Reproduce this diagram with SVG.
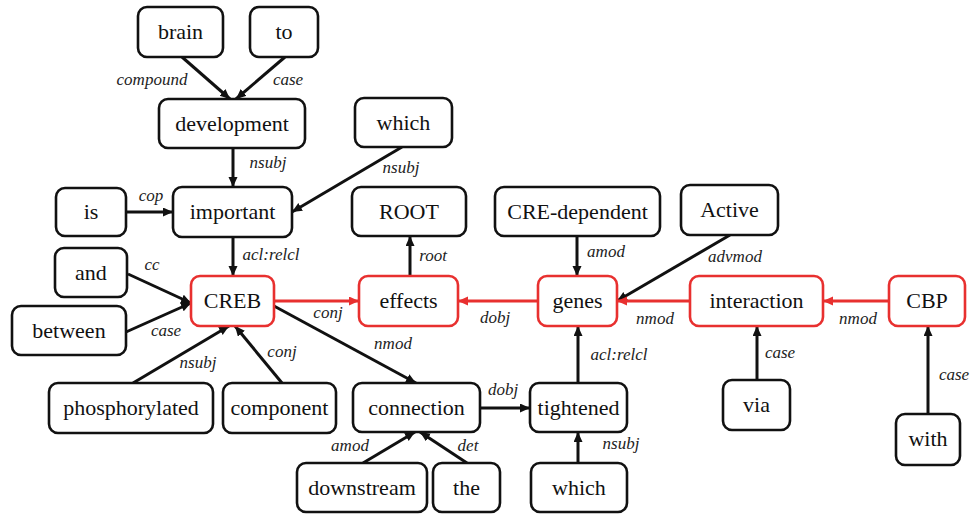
<svg xmlns="http://www.w3.org/2000/svg" width="972" height="515" viewBox="0 0 972 515">
<style>
.n rect{fill:#fff;stroke:#111;stroke-width:2.6}
.r rect{stroke:#e8302f}
.n text{font-size:22px;fill:#111;text-anchor:middle}
.e line{stroke:#111;stroke-width:3}
.e line.red{stroke:#e8302f}
.lb text{font-style:italic;font-size:17px;fill:#222;text-anchor:middle}
</style>
<defs>
<marker id="ab" markerUnits="userSpaceOnUse" markerWidth="11" markerHeight="10" refX="10" refY="4.5" orient="auto"><path d="M0,0 L10,4.5 L0,9 z" fill="#111"/></marker>
<marker id="ar" markerUnits="userSpaceOnUse" markerWidth="11" markerHeight="10" refX="10" refY="4.5" orient="auto"><path d="M0,0 L10,4.5 L0,9 z" fill="#e8302f"/></marker>
</defs>
<rect width="972" height="515" fill="#fff"/>
<g id="connectors" class="e">
<line x1="182" y1="57" x2="230" y2="99" marker-end="url(#ab)"/>
<line x1="285" y1="57" x2="236" y2="99" marker-end="url(#ab)"/>
<line x1="233" y1="148" x2="233" y2="187" marker-end="url(#ab)"/>
<line x1="402" y1="147" x2="292" y2="212" marker-end="url(#ab)"/>
<line x1="126" y1="212" x2="173" y2="212" marker-end="url(#ab)"/>
<line x1="233" y1="237" x2="233" y2="276" marker-end="url(#ab)"/>
<line x1="128" y1="274" x2="191" y2="303" marker-end="url(#ab)"/>
<line x1="126" y1="332" x2="191" y2="303" marker-end="url(#ab)"/>
<line x1="133" y1="383" x2="229" y2="326" marker-end="url(#ab)"/>
<line x1="282" y1="383" x2="235" y2="326" marker-end="url(#ab)"/>
<line class="red" x1="274" y1="301" x2="359" y2="301" marker-end="url(#ar)"/>
<line x1="274" y1="306" x2="416" y2="383" marker-end="url(#ab)"/>
<line x1="410" y1="276" x2="410" y2="236" marker-end="url(#ab)"/>
<line class="red" x1="538" y1="301" x2="458" y2="301" marker-end="url(#ar)"/>
<line x1="577" y1="236" x2="577" y2="276" marker-end="url(#ab)"/>
<line x1="730" y1="235" x2="617" y2="301" marker-end="url(#ab)"/>
<line class="red" x1="690" y1="301" x2="617" y2="301" marker-end="url(#ar)"/>
<line class="red" x1="889" y1="301" x2="823" y2="301" marker-end="url(#ar)"/>
<line x1="757" y1="380" x2="757" y2="326" marker-end="url(#ab)"/>
<line x1="928" y1="414" x2="928" y2="326" marker-end="url(#ab)"/>
<line x1="480" y1="408" x2="530" y2="408" marker-end="url(#ab)"/>
<line x1="578" y1="383" x2="578" y2="326" marker-end="url(#ab)"/>
<line x1="578" y1="463" x2="578" y2="432" marker-end="url(#ab)"/>
<line x1="363" y1="463" x2="415" y2="432" marker-end="url(#ab)"/>
<line x1="467" y1="463" x2="420" y2="432" marker-end="url(#ab)"/>
</g>
<g id="labels" class="lb" font-family="Liberation Serif, serif">
<text x="152" y="85">compound</text>
<text x="288" y="85">case</text>
<text x="268" y="168">nsubj</text>
<text x="401" y="173">nsubj</text>
<text x="151" y="201">cop</text>
<text x="271" y="260">acl:relcl</text>
<text x="152" y="270">cc</text>
<text x="166" y="336">case</text>
<text x="198" y="368">nsubj</text>
<text x="282" y="357">conj</text>
<text x="328" y="318">conj</text>
<text x="393" y="349">nmod</text>
<text x="433" y="261">root</text>
<text x="495" y="323">dobj</text>
<text x="606" y="257">amod</text>
<text x="735" y="262">advmod</text>
<text x="655" y="324">nmod</text>
<text x="858" y="324">nmod</text>
<text x="780" y="358">case</text>
<text x="954" y="380">case</text>
<text x="503" y="395">dobj</text>
<text x="619" y="360">acl:relcl</text>
<text x="350" y="451">amod</text>
<text x="468" y="451">det</text>
<text x="621" y="449">nsubj</text>
</g>
<g id="nodes" font-family="Liberation Serif, serif">
<g id="brain" class="n"><rect x="138" y="7" width="85" height="50" rx="9"/><text x="180.5" y="39">brain</text></g>
<g id="to" class="n"><rect x="250" y="7" width="68" height="50" rx="9"/><text x="284" y="39">to</text></g>
<g id="development" class="n"><rect x="159" y="99" width="146" height="49" rx="9"/><text x="232" y="131">development</text></g>
<g id="which1" class="n"><rect x="355" y="98" width="97" height="49" rx="9"/><text x="403.5" y="130">which</text></g>
<g id="is" class="n"><rect x="56" y="188" width="70" height="48" rx="9"/><text x="91" y="219">is</text></g>
<g id="important" class="n"><rect x="173" y="187" width="119" height="50" rx="9"/><text x="232.5" y="219">important</text></g>
<g id="and" class="n"><rect x="55" y="248" width="72" height="49" rx="9"/><text x="91" y="280">and</text></g>
<g id="between" class="n"><rect x="12" y="306" width="114" height="49" rx="9"/><text x="69" y="338">between</text></g>
<g id="CREB" class="n r"><rect x="191" y="276" width="83" height="50" rx="9"/><text x="232.5" y="308">CREB</text></g>
<g id="phosphorylated" class="n"><rect x="49" y="383" width="164" height="50" rx="9"/><text x="131" y="415">phosphorylated</text></g>
<g id="component" class="n"><rect x="223" y="383" width="113" height="50" rx="9"/><text x="279.5" y="415">component</text></g>
<g id="ROOT" class="n"><rect x="352" y="187" width="114" height="49" rx="9"/><text x="409" y="219">ROOT</text></g>
<g id="CRE-dependent" class="n"><rect x="495" y="187" width="165" height="49" rx="9"/><text x="577.5" y="219">CRE-dependent</text></g>
<g id="effects" class="n r"><rect x="359" y="276" width="99" height="50" rx="9"/><text x="408.5" y="308">effects</text></g>
<g id="genes" class="n r"><rect x="538" y="276" width="79" height="50" rx="9"/><text x="577.5" y="308">genes</text></g>
<g id="Active" class="n"><rect x="681" y="185" width="97" height="50" rx="9"/><text x="729.5" y="217">Active</text></g>
<g id="interaction" class="n r"><rect x="690" y="276" width="133" height="50" rx="9"/><text x="756.5" y="308">interaction</text></g>
<g id="CBP" class="n r"><rect x="889" y="276" width="76" height="50" rx="9"/><text x="927" y="308">CBP</text></g>
<g id="connection" class="n"><rect x="353" y="383" width="127" height="49" rx="9"/><text x="416.5" y="415">connection</text></g>
<g id="tightened" class="n"><rect x="530" y="383" width="97" height="49" rx="9"/><text x="578.5" y="415">tightened</text></g>
<g id="downstream" class="n"><rect x="297" y="463" width="130" height="49" rx="9"/><text x="362" y="495">downstream</text></g>
<g id="the" class="n"><rect x="433" y="463" width="67" height="49" rx="9"/><text x="466.5" y="495">the</text></g>
<g id="which2" class="n"><rect x="531" y="463" width="96" height="49" rx="9"/><text x="579" y="495">which</text></g>
<g id="via" class="n"><rect x="723" y="380" width="67" height="50" rx="9"/><text x="756.5" y="412">via</text></g>
<g id="with" class="n"><rect x="896" y="414" width="64" height="51" rx="9"/><text x="928" y="446">with</text></g>
</g>
</svg>
